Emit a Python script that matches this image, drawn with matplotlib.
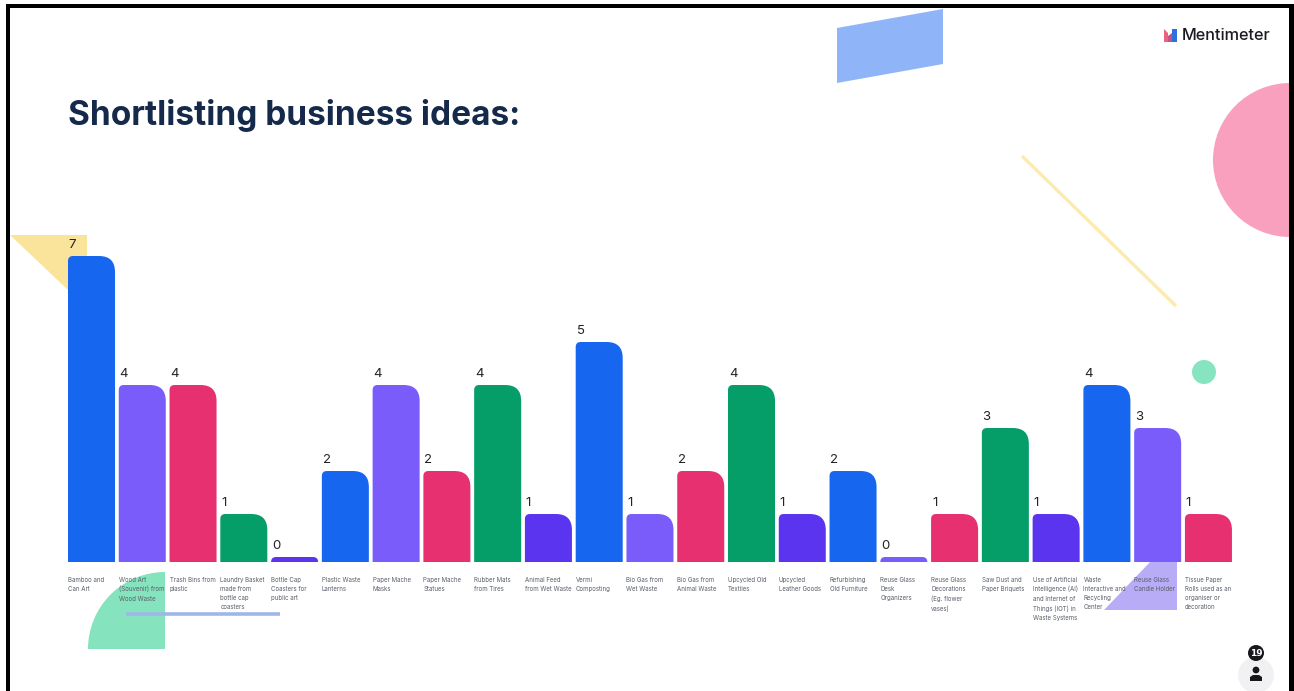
import matplotlib
matplotlib.use('Agg')
import matplotlib.pyplot as plt
from matplotlib.patches import Circle, PathPatch, Polygon, Rectangle, Wedge
from matplotlib.path import Path

title = 'Shortlisting business ideas:'

ideas = [
  'Bamboo and\nCan Art',
  'Wood Art\n(Souvenir) from\nWood Waste',
  'Trash Bins from\nplastic',
  'Laundry Basket\nmade from\nbottle cap\ncoasters',
  'Bottle Cap\nCoasters for\npublic art',
  'Plastic Waste\nLanterns',
  'Paper Mache\nMasks',
  'Paper Mache\nStatues',
  'Rubber Mats\nfrom Tires',
  'Animal Feed\nfrom Wet Waste',
  'Vermi\nComposting',
  'Bio Gas from\nWet Waste',
  'Bio Gas from\nAnimal Waste',
  'Upcycled Old\nTextiles',
  'Upcycled\nLeather Goods',
  'Refurbishing\nOld Furniture',
  'Reuse Glass\nDesk\nOrganizers',
  'Reuse Glass\nDecorations\n(Eg. flower\nvases)',
  'Saw Dust and\nPaper Briquets',
  'Use of Artificial\nIntelligence (AI)\nand Internet of\nThings (IOT) in\nWaste Systems',
  'Waste\nInteractive and\nRecycling\nCenter',
  'Reuse Glass\nCandle Holder',
  'Tissue Paper\nRolls used as an\norganiser or\ndecoration',
]
votes = [7, 4, 4, 1, 0, 2, 4, 2, 4, 1, 5, 1, 2, 4, 1, 2, 0, 1, 3, 1, 4, 3, 1]
palette = ['#1766F0', '#7A5CFA', '#E6306F', '#069E68', '#5A34EE']

W, H = 1294, 691
BAR_W = 0.926
FLOOR = -0.116  # zero votes still gets a thin sliver of bar
PX_X = 50.77
PX_Y = 43.0


def bar_path(x, top, rl, rr):
  # square bottom, small radius top left, big radius top right
  l = x - BAR_W / 2
  r = x + BAR_W / 2
  rl = min(rl, (top - FLOOR) * PX_Y)
  rr = min(rr, (top - FLOOR) * PX_Y)
  verts = [(l, FLOOR), (l, top - rl / PX_Y), (l, top), (l + rl / PX_X, top),
           (r - rr / PX_X, top), (r, top), (r, top - rr / PX_Y), (r, FLOOR), (l, FLOOR)]
  codes = [Path.MOVETO, Path.LINETO, Path.CURVE3, Path.CURVE3,
           Path.LINETO, Path.CURVE3, Path.CURVE3, Path.LINETO, Path.CLOSEPOLY]
  return Path(verts, codes)


def main():
  fig = plt.figure(figsize=(W / 100, H / 100), dpi=100, facecolor='white')

  # slide layer, in pixels from the top left
  bg = fig.add_axes([0, 0, 1, 1])
  bg.set_xlim(0, W)
  bg.set_ylim(H, 0)
  bg.axis('off')

  bg.add_patch(Polygon([(837, 28), (943, 9), (943, 64), (837, 83)], fc='#8FB5F8', ec='none'))
  bg.add_patch(Circle((1290, 160), 77, fc='#F9A0BE', ec='none'))
  bg.plot([1022, 1176], [156, 306], color='#FBEBAE', lw=2.4, solid_capstyle='butt')
  bg.add_patch(Circle((1204, 372), 12, fc='#86E5C0', ec='none'))
  bg.add_patch(Polygon([(10, 235), (87, 235), (87, 308)], fc='#FAE49C', ec='none'))
  bg.add_patch(Wedge((165, 649), 77, 180, 270, fc='#85E3BE', ec='none'))
  bg.plot([126, 280], [614, 614], color='#9DB8E8', lw=2.6, solid_capstyle='butt')
  bg.add_patch(Polygon([(1104, 610), (1177, 610), (1177, 534)], fc='#B9ACF7', ec='none'))

  bg.text(68, 115, title, fontsize=24, family='Inter', fontweight='bold', color='#15294B', va='center', ha='left')

  # logo
  bg.add_patch(Polygon([(1164, 29), (1168, 33), (1168, 42), (1164, 42)], fc='#E8637F', ec='none'))
  bg.add_patch(Polygon([(1168, 36), (1172, 33), (1172, 42), (1168, 42)], fc='#C2557F', ec='none'))
  bg.add_patch(Polygon([(1172, 29), (1177, 29), (1177, 42), (1172, 42)], fc='#2F6FE0', ec='none'))
  bg.text(1182, 35, 'Mentimeter', fontsize=11.7, family='Inter', fontweight='medium', color='#1A1A22', va='center', ha='left')

  # voter count badge
  bg.add_patch(Circle((1256, 675), 18, fc='#F1F1F3', ec='none'))
  bg.add_patch(Circle((1256, 653), 8, fc='#17171C', ec='none'))
  bg.text(1256, 653, '19', fontsize=6.5, fontweight='bold', color='white', ha='center', va='center')
  bg.add_patch(Circle((1256, 670), 3.4, fc='#17171C', ec='none'))
  bg.add_patch(Polygon([(1250, 681), (1250, 677), (1253, 675), (1259, 675), (1262, 677), (1262, 681)], fc='#17171C', ec='none'))

  # frame, open at the bottom
  bg.add_patch(Rectangle((6, 4), 4, H, fc='black', ec='none'))
  bg.add_patch(Rectangle((6, 4), W - 6, 4, fc='black', ec='none'))
  bg.add_patch(Rectangle((1289, 4), 5, H, fc='black', ec='none'))

  # bars, one unit of x per idea and one unit of y per vote
  left = 91.5 - PX_X / 2
  right = left + PX_X * len(votes)
  ytop = 8.0
  top_px = 557 - PX_Y * ytop
  ax = fig.add_axes([left / W, (H - 562) / H, (right - left) / W, (562 - top_px) / H])
  ax.set_xlim(-0.5, len(votes) - 0.5)
  ax.set_ylim(FLOOR, ytop)
  ax.axis('off')
  ax.patch.set_alpha(0)

  for i, v in enumerate(votes):
    c = palette[i % len(palette)]
    ax.add_patch(PathPatch(bar_path(i, v, 5, 16), fc=c, ec='none'))
    ax.annotate(str(v), (i - BAR_W / 2, v), xytext=(0.6, 3.8), textcoords='offset points',
                fontsize=9.5, family='Inter', color='#222228', ha='left', va='bottom')
    ax.annotate(ideas[i], (i - BAR_W / 2, FLOOR), xytext=(0, -10.5), textcoords='offset points',
                annotation_clip=False, fontsize=4.4, family='Inter', color='#5A5F6A',
                ha='left', va='top', linespacing=1.62)

  fig.savefig('out.png', dpi=100, facecolor='white')


if __name__ == "__main__":
  main()
